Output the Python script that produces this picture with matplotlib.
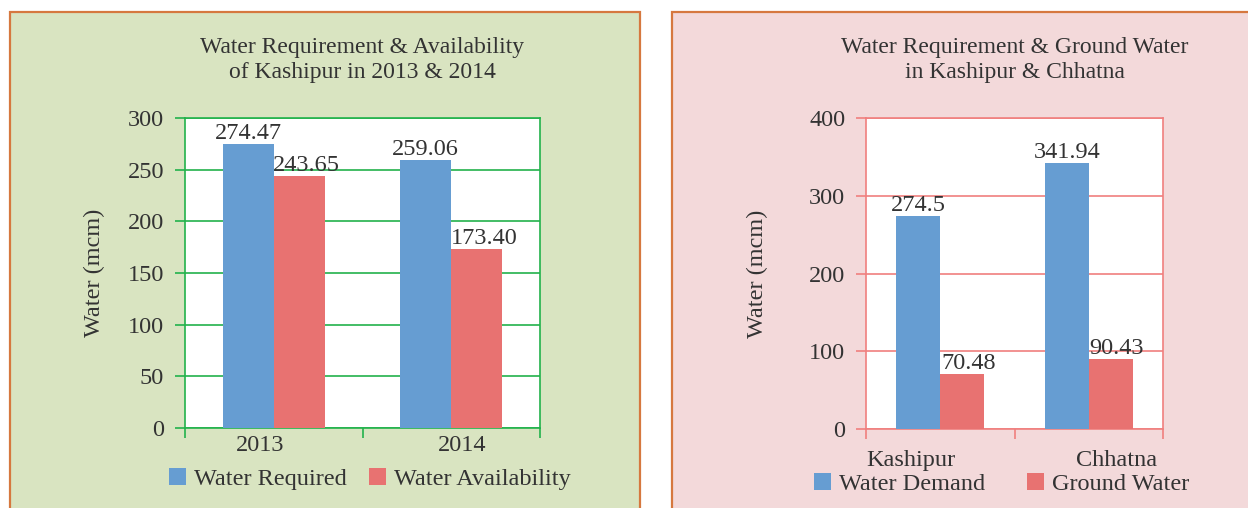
import numpy as np
import matplotlib
matplotlib.use("Agg")
from matplotlib import pyplot as plt
from matplotlib.patches import Rectangle
from matplotlib.transforms import ScaledTranslation

plt.rcParams['font.family'] = ['Liberation Serif', 'DejaVu Serif']

# left chart: Kashipur by year
years = ["2013", "2014"]
water_required = [274.47, 259.06]
water_availability = [243.65, 173.40]
required_labels = ["274.47", "259.06"]
availability_labels = ["243.65", "173.40"]

# right chart: Kashipur vs Chhatna
blocks = ["Kashipur", "Chhatna"]
water_demand = [274.5, 341.94]
ground_water = [70.48, 90.43]
demand_labels = ["274.5", "341.94"]
ground_labels = ["70.48", "90.43"]

BLUE = "#669dd2"
RED = "#e87271"
TXT = "#333333"
FS = 17.5

fig = plt.figure(figsize=(12.48, 5.08), dpi=100)
fig.patch.set_facecolor("white")

# panel backgrounds with orange border (kept under the axes)
fig.patches.append(Rectangle((10/1248, -0.02), 630/1248, 1.02 - 12/508,
                             transform=fig.transFigure, facecolor="#d9e4c1",
                             edgecolor="#d6783f", linewidth=1.6, zorder=-5))
fig.patches.append(Rectangle((672/1248, -0.02), 0.5, 1.02 - 12/508,
                             transform=fig.transFigure, facecolor="#f3d9da",
                             edgecolor="#d6783f", linewidth=1.6, zorder=-5))


def draw_panel(ax, cats, s1, s2, l1, l2, ymax, ystep, line_col, width,
               title, names, tick_shift, tick_pad, leg_y, leg_x, ylab_x, colsp):
    x = np.arange(len(cats))
    ax.set_facecolor("white")
    ax.bar(x - width/2, s1, width, color=BLUE, zorder=3, label=names[0])
    ax.bar(x + width/2, s2, width, color=RED, zorder=3, label=names[1])
    for xi, v, t in zip(x, s1, l1):
        ax.text(xi - width/2, v, t, ha="center", va="bottom", fontsize=FS, color=TXT, zorder=4)
    for xi, v, t in zip(x, s2, l2):
        ax.text(xi + width/2 + 0.04, v, t, ha="center", va="bottom", fontsize=FS, color=TXT, zorder=4)

    ax.set_xlim(-0.5, len(cats) - 0.5)
    ax.set_ylim(0, ymax)
    ax.set_yticks(np.arange(0, ymax + 1, ystep))
    ax.yaxis.grid(True, color=line_col, linewidth=1.2, zorder=1)
    for s in ax.spines.values():
        s.set_color(line_col)
        s.set_linewidth(1.2)
    ax.tick_params(axis="y", colors=line_col, length=7, width=1.2, labelcolor=TXT,
                   labelsize=FS, pad=8)
    # category boundary ticks on x
    ax.set_xticks(np.arange(-0.5, len(cats), 1.0))
    ax.set_xticklabels([])
    ax.tick_params(axis="x", colors=line_col, length=7, width=1.2, direction="out")
    ax.set_xticks(x, minor=True)
    ax.set_xticklabels(cats, minor=True)
    ax.tick_params(axis="x", which="minor", length=0, labelsize=FS, labelcolor=TXT, pad=tick_pad)
    for lab, dx in zip(ax.get_xticklabels(minor=True), tick_shift):
        lab.set_transform(lab.get_transform() + ScaledTranslation(dx / 100, 0, fig.dpi_scale_trans))

    ax.set_ylabel("Water (mcm)", fontsize=FS, color=TXT)
    ax.yaxis.set_label_coords(ylab_x, 0.5)
    ax.set_title(title, fontsize=17, color=TXT, pad=29, linespacing=1.25)
    leg = ax.legend(loc="center", bbox_to_anchor=(leg_x, leg_y), ncol=2, frameon=False,
                    fontsize=FS, handlelength=0.7, handleheight=0.7, handletextpad=0.35,
                    columnspacing=colsp, borderaxespad=0)
    for t in leg.get_texts():
        t.set_color(TXT)


ax1 = fig.add_axes([185/1248, 1 - 428/508, 355/1248, 310/508])
draw_panel(ax1, years, water_required, water_availability, required_labels, availability_labels,
           300, 50, "#22b24c", 0.288,
           "Water Requirement & Availability\nof Kashipur in 2013 & 2014",
           ["Water Required", "Water Availability"], [-14, 11], 5, -0.165, 0.521, -0.225, 0.9)

ax2 = fig.add_axes([866/1248, 1 - 429/508, 297/1248, 311/508])
draw_panel(ax2, blocks, water_demand, ground_water, demand_labels, ground_labels,
           400, 100, "#f07f7e", 0.296,
           "Water Requirement & Ground Water\nin Kashipur & Chhatna",
           ["Water Demand", "Ground Water"], [-29, 28], 15, -0.178, 0.456, -0.33, 1.7)

fig.savefig("out.png", dpi=100)
